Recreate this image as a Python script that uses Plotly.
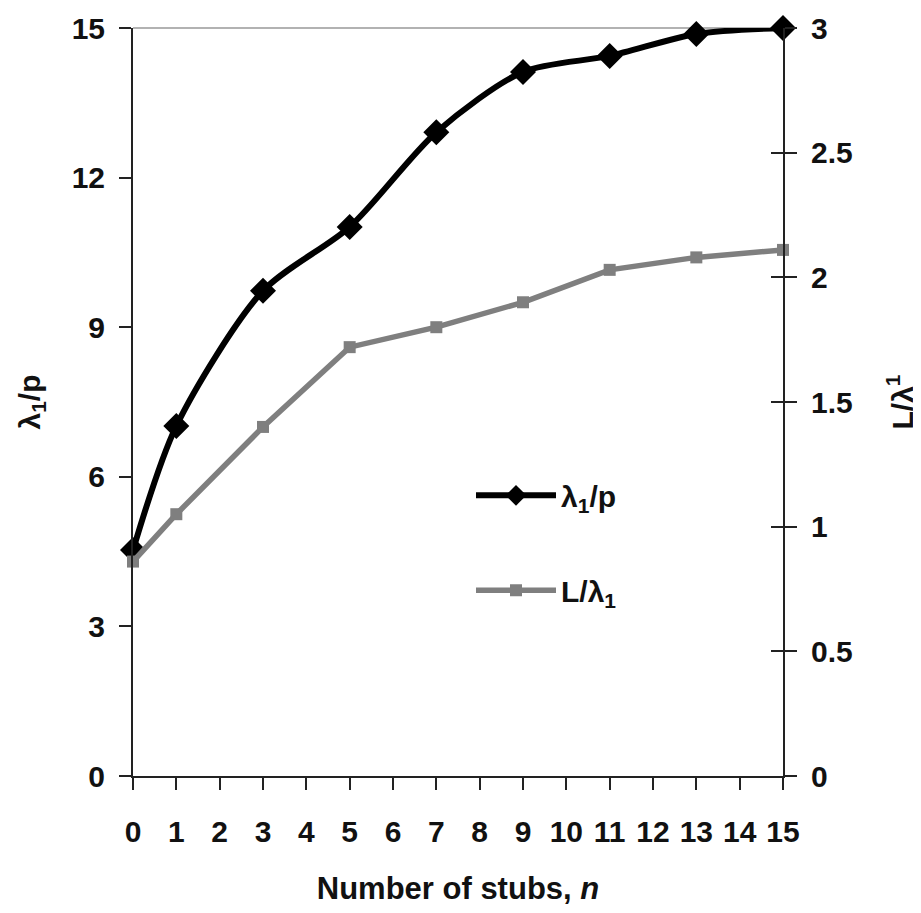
import plotly.graph_objects as go

n_stubs = [0, 1, 3, 5, 7, 9, 11, 13, 15]
lambda_over_p = [4.53, 7.02, 9.73, 11.01, 12.91, 14.12, 14.44, 14.88, 15.0]
L_over_lambda = [0.86, 1.05, 1.40, 1.72, 1.80, 1.90, 2.03, 2.08, 2.11]

x_ticks = list(range(0, 16))
left_ticks = [0, 3, 6, 9, 12, 15]
right_ticks = [0, 0.5, 1, 1.5, 2, 2.5, 3]
right_tick_text = ["0", "0.5", "1", "1.5", "2", "2.5", "3"]

FONT = "Liberation Sans, Arial, sans-serif"
FS = 30
TXT = "#111"

fig = go.Figure()
fig.add_trace(go.Scatter(
    x=n_stubs, y=lambda_over_p, name="<b>λ<sub>1</sub>/p</b>",
    mode="lines+markers", line=dict(color="black", width=6, shape="spline", smoothing=0.8),
    marker=dict(symbol="diamond", size=20, color="black"),
    legendgroup="a", cliponaxis=False, yaxis="y"))
fig.add_trace(go.Scatter(
    x=n_stubs, y=L_over_lambda, name="<b>L/λ<sub>1</sub></b>",
    mode="lines+markers", line=dict(color="#7f7f7f", width=5.5),
    marker=dict(symbol="square", size=12, color="#7f7f7f"),
    legendgroup="b", cliponaxis=False, yaxis="y2"))
# empty helper trace so the inner tick marks of the right axis are drawn
fig.add_trace(go.Scatter(x=[None], y=[None], yaxis="y3", showlegend=False,
                         hoverinfo="skip", mode="lines"))

axis_common = dict(showline=True, linecolor="#222", linewidth=2, tickcolor="#222",
                   tickwidth=2, showgrid=False, zeroline=False)

fig.update_layout(
    width=921, height=913,
    margin=dict(l=125, r=146, t=20, b=145, autoexpand=False),
    plot_bgcolor="white", paper_bgcolor="white",
    font=dict(family=FONT, size=FS, color=TXT),
    xaxis=dict(range=[0, 15], tickvals=x_ticks, ticks="outside", ticklen=12,
               ticklabelstandoff=16, tickfont=dict(family=FONT, size=FS, weight="bold"),
               title=dict(text="<b>Number of stubs, <i>n</i></b>", standoff=30,
                          font=dict(family=FONT, size=31)), **axis_common),
    yaxis=dict(range=[0, 15], tickvals=left_ticks, ticks="outside", ticklen=12,
               ticklabelstandoff=8, tickfont=dict(family=FONT, size=FS, weight="bold"),
               title=dict(text="<b>λ<sub>1</sub>/p</b>", standoff=22,
                          font=dict(family=FONT, size=FS)), **axis_common),
    yaxis2=dict(range=[0, 3], tickvals=right_ticks, ticktext=right_tick_text, overlaying="y",
                side="right", anchor="x", ticks="outside", ticklen=12,
                ticklabelstandoff=8, tickfont=dict(family=FONT, size=FS, weight="bold"),
                title=dict(text="<b>L/λ<sup>1</sup></b>", standoff=40,
                           font=dict(family=FONT, size=FS)), **axis_common),
    yaxis3=dict(range=[0, 3], tickvals=right_ticks, overlaying="y", side="right", anchor="x",
                ticks="inside", ticklen=12, showticklabels=False, **axis_common),
    legend=dict(x=0.52, y=0.41, xanchor="left", yanchor="top", bgcolor="rgba(0,0,0,0)",
                itemwidth=80, tracegroupgap=53, font=dict(family=FONT, size=FS)),
    shapes=[dict(type="line", xref="paper", yref="paper", x0=0, x1=1, y0=1, y1=1,
                 line=dict(color="#999", width=1.5), layer="below")],
)

fig.write_html("out.html")
